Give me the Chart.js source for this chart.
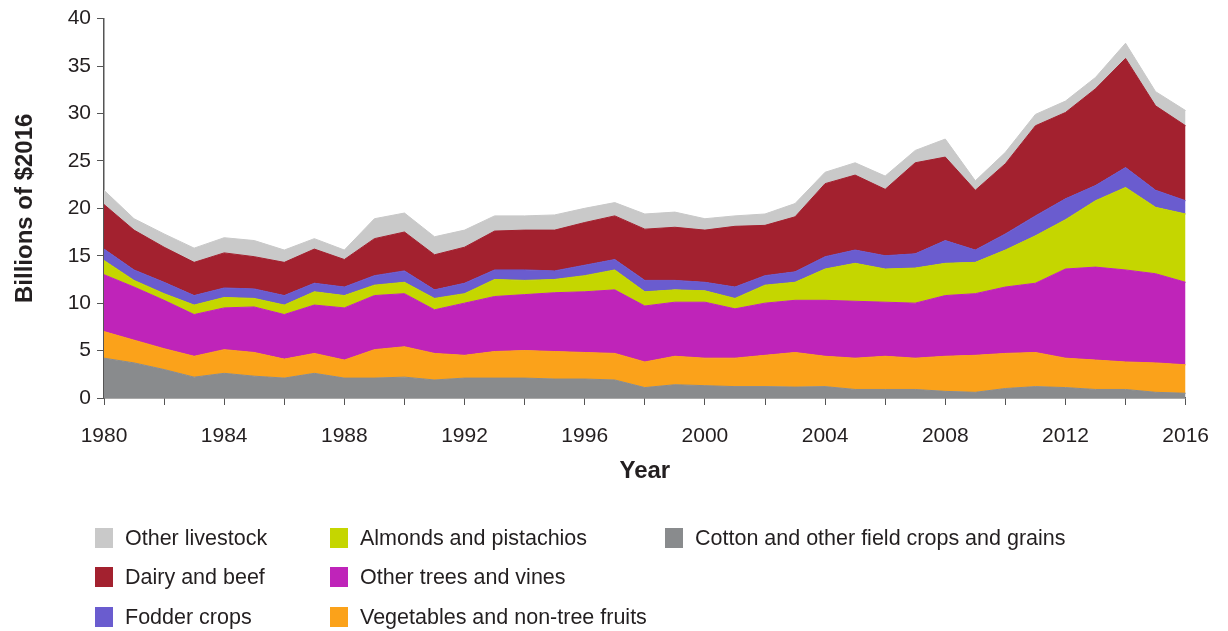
<!DOCTYPE html>
<html>
<head>
<meta charset="utf-8">
<script src="https://cdn.jsdelivr.net/npm/chart.js"></script>
<style>
    body { margin: 0; background: #fff; font-family: "Liberation Sans", Arial, sans-serif; }
    #wrap { position: relative; width: 1228px; height: 631px; }
    #legend { position: absolute; left: 0; top: 0; width: 1228px; height: 631px; pointer-events: none; }
    .item { position: absolute; display: flex; align-items: center; font-size: 21.5px; color: #231f20; white-space: nowrap; }
    .swatch { width: 18px; height: 20px; margin-right: 12px; }
</style>
</head>
<body>
<div id="wrap">
    <canvas id="areaChart" width="1228" height="500"></canvas>
    <div id="legend"></div>
</div>

<script>
    // years on the x axis
    const years = [];
    for (let y = 1980; y <= 2016; y++) years.push(String(y));

    // billions of $2016 (stack order: bottom -> top)
    const cotton = [4.2, 3.7, 3.0, 2.2, 2.6, 2.3, 2.1, 2.6, 2.1, 2.1, 2.2, 1.9, 2.1, 2.1, 2.1, 2.0, 2.0, 1.9, 1.1, 1.4,
        1.3, 1.2, 1.2, 1.15, 1.2, 0.9, 0.9, 0.9, 0.7, 0.6, 1.0, 1.2, 1.1, 0.9, 0.9, 0.6, 0.5];
    const vegetables = [2.8, 2.4, 2.2, 2.2, 2.5, 2.5, 2.0, 2.1, 1.9, 3.0, 3.2, 2.8, 2.4, 2.8, 2.9, 2.9, 2.8, 2.8, 2.7, 3.0,
        2.9, 3.0, 3.3, 3.65, 3.2, 3.3, 3.5, 3.3, 3.7, 3.9, 3.7, 3.6, 3.1, 3.1, 2.9, 3.1, 3.0];
    const otherTrees = [6.0, 5.6, 5.1, 4.4, 4.4, 4.8, 4.7, 5.1, 5.5, 5.7, 5.6, 4.6, 5.5, 5.8, 5.9, 6.2, 6.4, 6.7, 5.9, 5.7,
        5.9, 5.2, 5.5, 5.5, 5.9, 6.0, 5.7, 5.8, 6.4, 6.5, 7.0, 7.3, 9.4, 9.8, 9.7, 9.4, 8.7];
    const almonds = [1.5, 0.7, 0.7, 1.0, 1.1, 0.9, 1.0, 1.4, 1.3, 1.1, 1.2, 1.2, 1.0, 1.8, 1.5, 1.4, 1.7, 2.1, 1.5, 1.3,
        1.2, 1.1, 1.9, 1.9, 3.3, 4.0, 3.5, 3.7, 3.4, 3.3, 3.9, 5.0, 5.2, 7.0, 8.7, 7.0, 7.2];
    const fodder = [1.2, 1.1, 1.2, 1.0, 1.0, 1.0, 1.0, 0.9, 0.9, 1.0, 1.2, 0.9, 1.1, 1.0, 1.1, 0.9, 1.1, 1.1, 1.2, 1.0,
        0.9, 1.2, 1.0, 1.1, 1.3, 1.4, 1.4, 1.5, 2.4, 1.3, 1.7, 2.1, 2.2, 1.6, 2.1, 1.8, 1.4];
    const dairyBeef = [4.7, 4.2, 3.7, 3.5, 3.7, 3.4, 3.5, 3.6, 2.9, 3.9, 4.1, 3.7, 3.8, 4.1, 4.2, 4.3, 4.5, 4.6, 5.4, 5.6,
        5.5, 6.4, 5.3, 5.8, 7.7, 7.9, 7.0, 9.6, 8.8, 6.3, 7.4, 9.5, 9.1, 10.2, 11.5, 8.9, 7.9];
    const otherLivestock = [1.5, 1.2, 1.4, 1.5, 1.6, 1.7, 1.3, 1.1, 1.0, 2.1, 2.0, 1.9, 1.8, 1.6, 1.5, 1.6, 1.5, 1.4, 1.6, 1.6,
        1.2, 1.1, 1.2, 1.4, 1.2, 1.3, 1.4, 1.3, 1.9, 1.0, 1.2, 1.2, 1.2, 1.2, 1.6, 1.5, 1.6];

    const seriesNames = ['Cotton and other field crops and grains', 'Vegetables and non-tree fruits',
        'Other trees and vines', 'Almonds and pistachios', 'Fodder crops', 'Dairy and beef', 'Other livestock'];
    const seriesData = [cotton, vegetables, otherTrees, almonds, fodder, dairyBeef, otherLivestock];
    const seriesColors = ['#898b8d', '#fba21a', '#bf24b9', '#c5d600', '#6a5ccf', '#a3212f', '#c9c9c9'];

    const yTicks = [0, 5, 10, 15, 20, 25, 30, 35, 40];

    const TEXT = '#231f20';
    const AXIS = '#555555';
    const FONT = '"Liberation Sans", Arial, sans-serif';

    const datasets = seriesData.map((vals, i) => ({
        label: seriesNames[i],
        data: vals,
        backgroundColor: seriesColors[i],
        borderColor: seriesColors[i],
        borderWidth: 1,
        pointRadius: 0,
        tension: 0,
        fill: i == 0 ? 'origin' : '-1'
    }));

    new Chart(document.getElementById('areaChart'), {
        type: 'line',
        data: { labels: years, datasets: datasets },
        options: {
            responsive: false,
            animation: false,
            devicePixelRatio: 1,
            layout: { padding: { top: 17, right: 34, left: 0, bottom: 0 } },
            plugins: { legend: { display: false }, tooltip: { enabled: false } },
            scales: {
                x: {
                    type: 'category',
                    offset: false,
                    grid: { drawOnChartArea: false, drawTicks: true, tickLength: 7, color: AXIS },
                    border: { display: true, color: AXIS, width: 1.5 },
                    ticks: {
                        autoSkip: false,
                        maxRotation: 0,
                        padding: 19,
                        color: TEXT,
                        font: { family: FONT, size: 21 },
                        callback: function (val, i) {
                            const yr = Number(years[i]);
                            if (yr % 4 == 0) return years[i];
                            if (yr % 2 == 0) return '';
                            return null;
                        }
                    },
                    title: {
                        display: true,
                        text: 'Year',
                        color: TEXT,
                        font: { family: FONT, size: 24, weight: 'bold' },
                        padding: { top: 0, bottom: 14 }
                    },
                    afterFit: (scale) => { scale.height = 102; }
                },
                y: {
                    stacked: true,
                    min: 0,
                    max: 40,
                    grid: { drawOnChartArea: false, drawTicks: true, tickLength: 7, color: AXIS },
                    border: { display: true, color: AXIS, width: 1.5 },
                    afterBuildTicks: (scale) => { scale.ticks = yTicks.map(v => ({ value: v })); },
                    ticks: {
                        padding: 6,
                        color: TEXT,
                        font: { family: FONT, size: 21 }
                    },
                    title: {
                        display: true,
                        text: 'Billions of $2016',
                        color: TEXT,
                        font: { family: FONT, size: 24, weight: 'bold' },
                        padding: { top: 11, bottom: 0 }
                    },
                    afterFit: (scale) => { scale.width = 104; }
                }
            }
        }
    });

    // legend laid out in three columns like the original
    const legendOrder = [
        [6, 0, 0], [5, 0, 1], [4, 0, 2],
        [3, 1, 0], [2, 1, 1], [1, 1, 2],
        [0, 2, 0]
    ];
    const colX = [95, 330, 665];
    const rowY = [538, 577, 617];
    const legend = document.getElementById('legend');
    legendOrder.forEach(([idx, col, row]) => {
        const item = document.createElement('div');
        item.className = 'item';
        item.style.left = colX[col] + 'px';
        item.style.top = (rowY[row] - 13) + 'px';
        item.style.height = '26px';
        const sw = document.createElement('span');
        sw.className = 'swatch';
        sw.style.background = seriesColors[idx];
        const txt = document.createElement('span');
        txt.textContent = seriesNames[idx];
        item.appendChild(sw);
        item.appendChild(txt);
        legend.appendChild(item);
    });
</script>
</body>
</html>
